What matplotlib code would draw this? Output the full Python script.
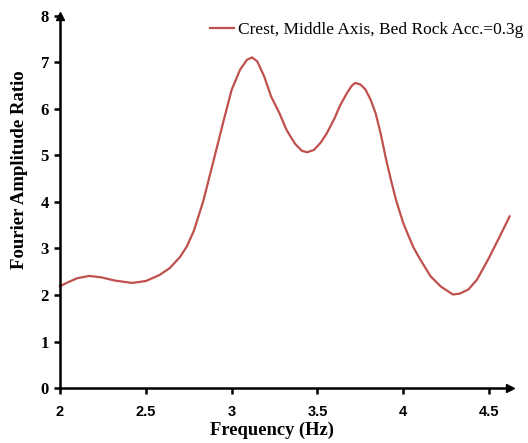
import matplotlib
matplotlib.use("Agg")
import matplotlib.pyplot as plt

freq = [2.00, 2.05, 2.10, 2.17, 2.24, 2.32, 2.42, 2.50, 2.58, 2.64, 2.70, 2.74, 2.78,
        2.835, 2.89, 2.95, 3.00, 3.05, 3.09, 3.12, 3.15, 3.19, 3.23, 3.28, 3.32,
        3.37, 3.41, 3.44, 3.48, 3.52, 3.555, 3.60, 3.63, 3.67, 3.70, 3.72, 3.75,
        3.78, 3.81, 3.84, 3.87, 3.90, 3.93, 3.96, 4.00, 4.03, 4.06, 4.10, 4.16,
        4.22, 4.29, 4.33, 4.38, 4.43, 4.50, 4.56, 4.62]
ratio = [2.19, 2.28, 2.36, 2.41, 2.38, 2.31, 2.26, 2.30, 2.43, 2.58, 2.82, 3.05, 3.38,
         4.02, 4.82, 5.70, 6.41, 6.85, 7.06, 7.11, 7.02, 6.70, 6.27, 5.90, 5.55,
         5.25, 5.10, 5.07, 5.12, 5.28, 5.48, 5.80, 6.06, 6.33, 6.50, 6.56, 6.53,
         6.42, 6.20, 5.90, 5.45, 4.92, 4.45, 4.02, 3.55, 3.28, 3.02, 2.76, 2.40,
         2.18, 2.01, 2.03, 2.12, 2.33, 2.80, 3.24, 3.69]
label = "Crest, Middle Axis, Bed Rock Acc.=0.3g"
xticks = [2, 2.5, 3, 3.5, 4, 4.5]
xticklabels = ["2", "2.5", "3", "3.5", "4", "4.5"]
yticks = [0, 1, 2, 3, 4, 5, 6, 7, 8]

fig = plt.figure(figsize=(5.28, 4.43), dpi=100)
ax = fig.add_axes([60/528, 1-388/443, (509.6-60)/528, (388-16)/443])
ax.plot(freq, ratio, color="#C0504D", lw=1.6, clip_on=False, label=label,
        solid_joinstyle="round")
ax.set_xlim(2, 4.62)
ax.set_ylim(0, 8)
for s in ["top", "right"]:
    ax.spines[s].set_visible(False)
for s in ["left", "bottom"]:
    ax.spines[s].set_linewidth(1.8)
    ax.spines[s].set_color("black")
# arrow heads
ax.plot(1, 0, ">k", transform=ax.transAxes, clip_on=False, markersize=6)
ax.plot(0, 1, "^k", transform=ax.transAxes, clip_on=False, markersize=6)

ax.set_xticks(xticks)
ax.set_xticklabels(xticklabels, family="Liberation Sans", fontweight="bold", fontsize=10.5)
ax.set_yticks(yticks)
ax.set_yticklabels([str(v) for v in yticks], family="Liberation Serif", fontweight="bold", fontsize=12)
ax.tick_params(axis="both", direction="out", length=4, width=1.8, color="black")
ax.tick_params(axis="x", pad=8)
ax.tick_params(axis="y", pad=4)

ax.set_xlabel("Frequency (Hz)", family="Liberation Serif", fontweight="bold", fontsize=13.3, labelpad=3)
ax.xaxis.set_label_coords(0.471, -0.09)
ax.set_ylabel("Fourier Amplitude Ratio", family="Liberation Serif", fontweight="bold", fontsize=13.5)
ax.yaxis.set_label_coords(-0.072, 0.586)

leg = ax.legend(loc="upper right", bbox_to_anchor=(523/528, 1-22/443), bbox_transform=fig.transFigure,
                frameon=False, handlelength=1.4, handletextpad=0.2, borderaxespad=0, borderpad=0,
                prop={"family": "Liberation Serif", "size": 12.5})

fig.savefig("out.png", dpi=100)
